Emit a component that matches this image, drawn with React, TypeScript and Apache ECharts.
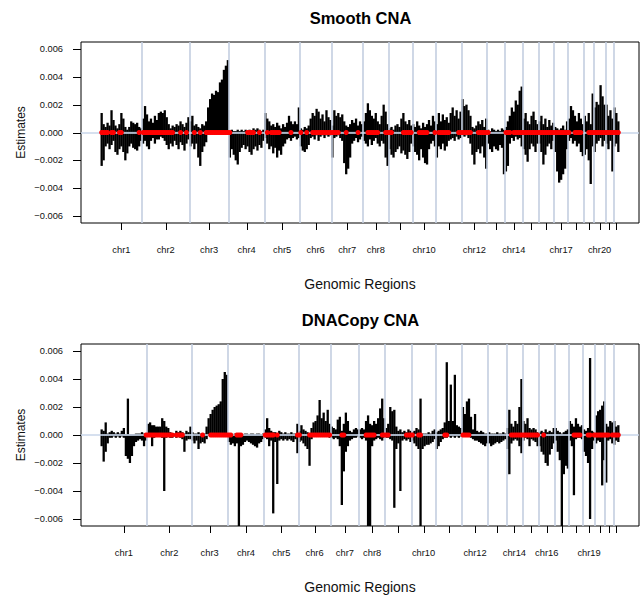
import React, { useEffect, useRef } from "react";
import * as echarts from "echarts";

// Chromosome names (x-axis regions)
const CHROMS = [
  "chr1", "chr2", "chr3", "chr4", "chr5", "chr6", "chr7", "chr8", "chr9", "chr10", "chr11",
  "chr12", "chr13", "chr14", "chr15", "chr16", "chr17", "chr18", "chr19", "chr20", "chr21", "chr22",
];

// ---- Smooth CNA: per chromosome, binned maximum / minimum estimate (units of 1e-4) ----
const smoothHi: number[][] = [
  [14, 6, 4, 7, 5, 16, 9, 5, 3, 6, 14, 10, 4, 2, 4, 8, 7, 6, 7, 4, 3],
  [10, 19, 13, 8, 10, 7, 12, 9, 14, 15, 14, 16, 11, 6, 3, 5, 4, 6, 5, 8, 6, 4, 7, 11],
  [8, 12, 5, 6, 4, 3, 6, 5, 8, 18, 24, 28, 27, 30, 29, 36, 38, 45, 48, 52],
  [1, 2, 1, 1, 2, 1, 2, 1, 2, 1, 2, 1, 3, 2, 3, 2, 1, 2],
  [14, 10, 8, 5, 6, 4, 7, 5, 3, 6, 4, 7, 12, 8, 6, 8, 6, 18],
  [3, 2, 4, 3, 5, 10, 14, 12, 17, 15, 10, 13, 8, 16, 11, 9],
  [5, 16, 12, 14, 11, 13, 8, 5, 4, 6, 9, 7, 10, 5, 8, 6],
  [8, 14, 21, 16, 12, 10, 14, 8, 6, 12, 20, 15, 6],
  [3, 4, 2, 5, 6, 4, 10, 14, 8, 6, 9, 5],
  [6, 4, 8, 5, 3, 7, 4, 6, 9, 5, 12, 8],
  [6, 14, 8, 13, 9, 11, 7, 14, 18, 12, 16, 10, 15],
  [24, 19, 20, 16, 12, 4, 3, 5, 8, 6, 9, 4, 10],
  [2, 1, 3, 2, 1, 2, 1, 3, 2],
  [4, 8, 12, 18, 15, 23, 20, 30, 33],
  [10, 14, 8, 6, 12, 15, 9, 6],
  [8, 12, 6, 10, 4, 9, 5, 7],
  [4, 3, 2, 3, 5, 2, 8],
  [10, 19, 16, 12, 8, 14, 10, 6],
  [12, 8, 14, 6, 28],
  [18, 22, 20, 34, 26, 20],
  [20, 12, 16, 10],
  [18, 14, 8],
];
const smoothLo: number[][] = [
  [-24, -20, -10, -8, -12, -9, -6, -14, -16, -12, -10, -14, -20, -15, -10, -8, -11, -12, -13, -10, -6],
  [-8, -6, -10, -12, -6, -4, -8, -5, -5, -3, -4, -6, -9, -12, -8, -10, -6, -9, -12, -7, -9, -13, -8, -5],
  [-10, -8, -12, -8, -18, -24, -14, -10, -7, 0, 0, 0, 0, 0, 0, 0, 0, 0, 0, 0],
  [-18, -12, -16, -20, -23, -14, -11, -9, -12, -10, -14, -16, -12, -10, -13, -9, -11, -6],
  [-4, -8, -12, -10, -15, -11, -18, -13, -16, -10, -8, -5, -4, -6, -4, -3, -5, -4],
  [-10, -13, -14, -12, -9, -4, -3, -5, -2, -6, -3, -2, -4, -2, -3, -2],
  [-18, -4, -3, -2, -4, -6, -22, -30, -26, -18, -8, -6, -4, -7, -5, -3],
  [-6, -8, -10, -5, -9, -6, -4, -8, -10, -6, -8, -18, -24],
  [-12, -16, -18, -14, -12, -10, -15, -13, -16, -19, -14, -8],
  [-10, -14, -16, -20, -12, -18, -22, -23, -12, -8, -6, -10],
  [-18, -10, -12, -8, -13, -10, -6, -5, -4, -6, -3, -5, -4],
  [-2, -3, -2, -4, -8, -16, -23, -14, -12, -15, -10, -18, -26],
  [-8, -12, -14, -10, -12, -13, -9, -11, -30],
  [-28, -24, -8, -4, -6, -3, -5, -4, -10],
  [-12, -16, -21, -12, -8, -10, -14, -8],
  [-8, -14, -23, -16, -10, -8, -12, -6],
  [-14, -28, -36, -34, -30, -26, -12],
  [-6, -4, -8, -6, -10, -8, -14, -17],
  [-16, -12, -20, -37, -10],
  [-14, -8, -6, -4, -10, -6],
  [-8, -12, -6, -28],
  [-10, -8, -14],
];
// significant bins (start, end bin index) marked in red on the zero line
const smoothRed: [number, number][] = [
  [0, 3], [5, 6], [9, 10], [19, 19], [21, 36], [40, 40], [43, 43], [47, 47], [50, 50], [53, 65],
  [74, 77], [80, 80], [84, 84], [86, 90], [96, 96], [101, 101], [104, 104], [107, 120], [124, 124],
  [130, 130], [135, 140], [144, 147], [153, 157], [161, 165], [169, 169], [171, 176], [181, 187],
  [191, 196], [205, 207], [209, 237], [240, 243], [247, 262],
];
const smoothLabeled = ["chr1", "chr2", "chr3", "chr4", "chr5", "chr6", "chr7", "chr8", "chr10", "chr12", "chr14", "chr17", "chr20"];

// ---- DNACopy CNA: per chromosome, binned maximum / minimum estimate (units of 1e-4) ----
const dnaHi: number[][] = [
  [4, 3, 9, 1, 2, 3, 2, 1, 2, 1, 3, 5, 0, 26, 0, 0, 0, 1, 1, 1, 2, 1, 1],
  [8, 9, 7, 7, 6, 6, 6, 12, 10, 6, 5, 2, 1, 1, 3, 2, 3, 2, 1, 3, 2, 6],
  [2, 1, 1, 2, 1, 1, 1, 6, 12, 15, 18, 20, 21, 22, 24, 40, 45, 43],
  [1, 1, 0, 1, 0, 1, 1, 0, 1, 1, 0, 1, 1, 0, 1, 1, 0, 1],
  [4, 12, 5, 3, 2, 2, 1, 3, 2, 1, 2, 1, 1, 2, 1, 1, 8],
  [3, 7, 4, 3, 2, 1, 5, 9, 10, 14, 25, 12, 16, 10, 18, 8],
  [6, 5, 4, 11, 13, 3, 8, 16, 10, 3, 2, 4, 5, 4],
  [4, 5, 4, 10, 14, 8, 7, 10, 8, 12, 19, 26, 12],
  [5, 8, 20, 17, 18, 6, 3, 4, 2, 3, 2, 4, 3],
  [2, 3, 5, 4, 26, 1, 1, 1, 2, 1, 3, 4],
  [2, 3, 4, 5, 9, 52, 10, 36, 10, 43, 7, 6, 5],
  [20, 15, 24, 26, 13, 4, 15, 3, 2, 3, 2, 1, 1],
  [2, 1, 1, 1, 2, 1, 1, 2, 1],
  [5, 18, 8, 6, 10, 8, 20, 40],
  [10, 8, 12, 5, 4, 5, 4, 2],
  [2, 3, 2, 4, 2, 3, 2, 5],
  [5, 3, 2, 1, 2, 3, 4],
  [10, 8, 6, 12, 8, 6, 7],
  [4, 3, 5, 55, 3, 2],
  [14, 17, 18, 21, 24],
  [8, 6, 10, 9],
  [10, 6, 7],
];
const dnaLo: number[][] = [
  [-8, -19, -12, -6, -2, -2, -1, -2, -1, -2, -1, -2, -15, -17, -20, -15, -8, -5, -4, -3, -4, -8, -4],
  [-1, -1, -8, -2, -1, -1, -1, -2, -40, -2, -1, -2, -2, -1, -2, -1, -2, -3, -12, -4, -3, -3],
  [-4, -6, -4, -10, -6, -5, -6, -3, 0, 0, 0, 0, 0, 0, 0, 0, 0, 0],
  [-5, -7, -6, -8, -6, -70, -8, -7, -5, -4, -5, -6, -7, -8, -9, -6, -5, -3],
  [-2, -3, -8, -4, -56, -5, -35, -4, -3, -4, -3, -4, -3, -4, -5, -3, -13],
  [-5, -4, -6, -8, -10, -22, -3, -1, -1, 0, 0, 0, -1, 0, -1, -2],
  [-2, -3, -2, -3, -8, -50, -26, -12, -8, -4, -3, -2, -2, -1],
  [-2, -3, -2, -4, -70, -65, -8, -4, -3, -2, -3, -4, -2],
  [-2, -2, -3, -4, -52, -10, -6, -40, -4, -3, -4, -3, -5],
  [-4, -6, -8, -10, -70, -10, -8, -7, -7, -6, -5, -3],
  [-10, -8, -5, -3, -2, -2, -1, -2, -1, -2, -1, -2, -1],
  [-1, -1, -1, -1, -2, -3, -4, -4, -5, -6, -7, -8, -6],
  [-6, -8, -7, -6, -5, -6, -5, -4, -3],
  [-10, -28, -6, -4, -3, -4, -8, -13],
  [-4, -2, -3, -8, -3, -4, -5, -8],
  [-8, -12, -14, -20, -22, -14, -10, -6],
  [-4, -12, -18, -70, -28, -22, -24],
  [-4, -8, -43, -3, -2, -2, -3],
  [-12, -15, -20, -60, -10, -4],
  [-6, -4, -5, -36, -18],
  [-34, -4, -3, -6],
  [-7, -4, -5],
];
const dnaRed: [number, number][] = [
  [22, 35], [37, 40], [50, 50], [54, 64], [67, 69], [81, 85], [87, 87], [97, 98], [103, 113],
  [119, 120], [131, 135], [139, 142], [151, 154], [157, 158], [170, 171], [179, 182], [203, 216],
  [219, 219], [234, 237], [241, 242], [244, 251], [253, 256],
];
const dnaLabeled = ["chr1", "chr2", "chr3", "chr4", "chr5", "chr6", "chr7", "chr8", "chr10", "chr12", "chr14", "chr16", "chr19"];

// y-axis ticks (units of 1e-4)
const Y_TICKS = [-60, -40, -20, 0, 20, 40, 60];
const Y_MIN = -65;
const Y_MAX = 65;

const FONT = "'Liberation Sans', Arial, Helvetica, sans-serif";
const SEP_COLOR = "#c3cee0";
const X_TICK_LEN = 7;
const Y_TICK_LEN = 8;
const GRID_LEFT = 81;
const GRID_WIDTH = 558;

function fmtY(v: number) {
  const s = (Math.abs(v) / 1e4).toFixed(3);
  return v < 0 ? "\u2212" + s : s;
}

function buildPanel(hi: number[][], lo: number[][], red: [number, number][], labeled: string[]) {
  const hiData: number[][] = [];
  const loData: number[][] = [];
  const mids: number[] = [];
  const bounds: number[] = [];
  const midName = new Map<string, string>();
  let start = 0;
  hi.forEach((chr, ci) => {
    const n = chr.length;
    const mid = start + (n - 1) / 2;
    mids.push(mid);
    midName.set(mid.toFixed(2), CHROMS[ci]);
    if (ci > 0) bounds.push(start - 0.5);
    chr.forEach((v, j) => hiData.push([start + j, v]));
    lo[ci].forEach((v, j) => loData.push([start + j, v]));
    start += n;
  });
  const n = start;
  const labeledMids = mids.filter((_, i) => labeled.includes(CHROMS[i]));
  const redData: number[][] = [];
  red.forEach(([a, b]) => {
    for (let i = a; i <= b; i++) redData.push([i, 0]);
  });
  const span = n - 1;
  return { hiData, loData, mids, bounds, midName, n, span, xMin: -0.04 * span, xMax: 1.04 * span, labeledMids, redData };
}

const panels = [
  { title: "Smooth CNA", hi: smoothHi, lo: smoothLo, red: smoothRed, labeled: smoothLabeled, top: 42, height: 181 },
  { title: "DNACopy CNA", hi: dnaHi, lo: dnaLo, red: dnaRed, labeled: dnaLabeled, top: 344, height: 182 },
];

export default function App() {
  const ref = useRef<HTMLDivElement>(null);
  useEffect(() => {
    if (!ref.current) return;
    const chart = echarts.init(ref.current, undefined, { renderer: "svg" });
    const grids: any[] = [];
    const xAxes: any[] = [];
    const yAxes: any[] = [];
    const series: any[] = [];
    const graphics: any[] = [];
    const built = panels.map((p) => buildPanel(p.hi, p.lo, p.red, p.labeled));
    panels.forEach((p, pi) => {
      const b = built[pi];
      grids.push({
        left: GRID_LEFT, width: GRID_WIDTH, top: p.top, height: p.height,
        show: true, borderColor: "#000", borderWidth: 1, backgroundColor: "transparent",
      });
      xAxes.push({
        type: "value", gridIndex: pi, min: b.xMin, max: b.xMax, position: "bottom",
        axisLine: { show: false, onZero: false },
        splitLine: { show: false },
        axisTick: { show: false },
        axisLabel: {
          customValues: b.labeledMids, margin: 22, fontSize: 9.3, color: "#111", fontFamily: FONT,
          formatter: (v: number) => b.midName.get(v.toFixed(2)) || "",
        },
        name: "Genomic Regions", nameLocation: "middle", nameGap: 54,
        nameTextStyle: { fontSize: 14, color: "#111", fontFamily: FONT },
      });
      yAxes.push({
        type: "value", gridIndex: pi, min: Y_MIN, max: Y_MAX, position: "left",
        axisLine: { show: false, onZero: false },
        splitLine: { show: false },
        axisTick: { show: false },
        axisLabel: { customValues: Y_TICKS, margin: 18, fontSize: 9.3, color: "#111", fontFamily: FONT, formatter: fmtY },
        name: "Estimates", nameLocation: "middle", nameGap: 54, nameRotate: 90, nameMoveOverlap: false,
        nameTextStyle: { fontSize: 12, color: "#111", fontFamily: FONT },
      });
      // background: chromosome separators + zero line
      series.push({
        type: "line", xAxisIndex: pi, yAxisIndex: pi, data: [], z: 1, silent: true,
        markLine: {
          silent: true, symbol: ["none", "none"], label: { show: false },
          emphasis: { disabled: true },
          lineStyle: { color: SEP_COLOR, width: 1.6, type: "solid" },
          data: [
            ...b.bounds.map((x) => ({ xAxis: x })),
            { yAxis: 0, lineStyle: { color: "#c9d6ea", width: 1.5, type: "solid" } },
          ],
        },
      });
      series.push({
        type: "bar", xAxisIndex: pi, yAxisIndex: pi, data: b.hiData, barWidth: 2.3, barGap: "-100%",
        itemStyle: { color: "#000" }, z: 2, silent: true, clip: true,
      });
      series.push({
        type: "bar", xAxisIndex: pi, yAxisIndex: pi, data: b.loData, barWidth: 2.3, barGap: "-100%",
        itemStyle: { color: "#000" }, z: 2, silent: true, clip: true,
      });
      series.push({
        type: "line", xAxisIndex: pi, yAxisIndex: pi, data: [[0, 0], [b.span, 0]], z: 3, silent: true,
        showSymbol: false, lineStyle: { color: "#555b63", width: 1.5 },
      });
      series.push({
        type: "scatter", xAxisIndex: pi, yAxisIndex: pi, data: b.redData, z: 5, silent: true,
        symbol: "circle", symbolSize: 5, itemStyle: { color: "#ff0000", opacity: 1 },
      });
      graphics.push({
        type: "text", x: 360.5, y: p.top - 24.5, silent: true,
        style: {
          text: p.title, fontSize: 16.5, fontWeight: "bold", fontFamily: FONT, fill: "#000",
          textAlign: "center", verticalAlign: "middle", textVerticalAlign: "middle",
        },
      });
      // axis ticks as thin filled rects; positions follow the axes' linear scale (min/max -> grid box)
      const toPx = (x: number, y: number) => [
        GRID_LEFT + ((x - b.xMin) / (b.xMax - b.xMin)) * GRID_WIDTH,
        p.top + ((Y_MAX - y) / (Y_MAX - Y_MIN)) * p.height,
      ];
      b.mids.forEach((m) => {
        const pt = toPx(m, Y_MIN);
        graphics.push({
          type: "rect", silent: true, z: 100,
          shape: { x: Math.round(pt[0]), y: pt[1], width: 1, height: X_TICK_LEN },
          style: { fill: "#000" },
        });
      });
      Y_TICKS.forEach((t) => {
        const pt = toPx(b.xMin, t);
        graphics.push({
          type: "rect", silent: true, z: 100,
          shape: { x: pt[0] - Y_TICK_LEN, y: Math.round(pt[1]), width: Y_TICK_LEN, height: 1 },
          style: { fill: "#000" },
        });
      });
    });
    chart.setOption({
      animation: false,
      backgroundColor: "#fff",
      grid: grids,
      xAxis: xAxes,
      yAxis: yAxes,
      series,
      graphic: { elements: graphics },
    });
    return () => chart.dispose();
  }, []);
  return <div ref={ref} style={{ position: "absolute", left: 0, top: 0, width: 642, height: 598 }} />;
}
